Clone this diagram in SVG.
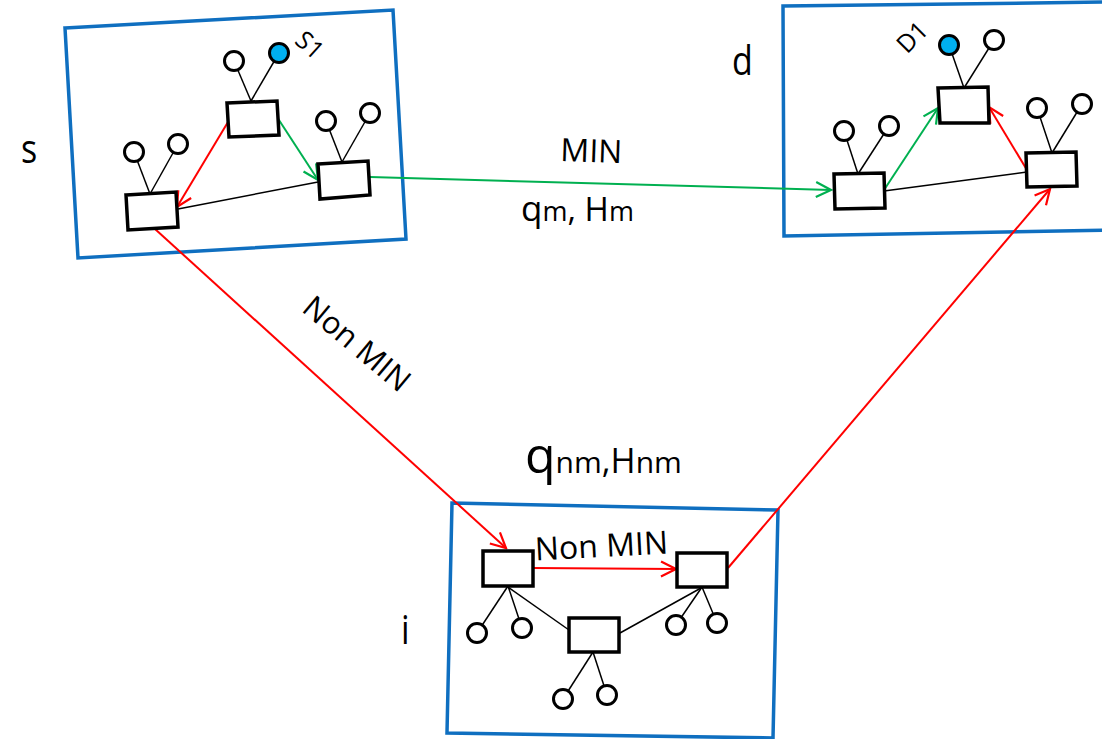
<svg xmlns="http://www.w3.org/2000/svg" width="1102" height="739" viewBox="0 0 1102 739">
<style>
.box{fill:none;stroke:#0F6FC0;stroke-width:3.5}
.nd{fill:#fff;stroke:#000;stroke-width:3.5}
.lf{fill:#fff;stroke:#000;stroke-width:3}
.blue{fill:#00B0F0;stroke:#000;stroke-width:3}
.ln{stroke:#000;stroke-width:1.5;fill:none}
.red{stroke:#FF0000;stroke-width:2;fill:none}
.grn{stroke:#00B050;stroke-width:2;fill:none}
text{font-family:"Open Sans","Liberation Sans",sans-serif;fill:#000}
</style>
<defs>
<marker id="ar" viewBox="-17 -9 19 18" refX="0" refY="0" markerWidth="19" markerHeight="18" markerUnits="userSpaceOnUse" orient="auto"><path d="M-15,-7.5 L0,0 L-15,7.5" fill="none" stroke="#FF0000" stroke-width="2.2"/></marker>
<marker id="ag" viewBox="-17 -9 19 18" refX="0" refY="0" markerWidth="19" markerHeight="18" markerUnits="userSpaceOnUse" orient="auto"><path d="M-15,-7.5 L0,0 L-15,7.5" fill="none" stroke="#00B050" stroke-width="2.2"/></marker>
</defs>
<rect width="1102" height="739" fill="#fff"/>
<g id="box-s"><polygon class="box" points="65,28 393,10 406,239 78,258"/></g>
<g id="box-d"><polygon class="box" points="783,6 1112,2 1113,230 784,236"/></g>
<g id="box-i"><polygon class="box" points="452,503 778,510 773,738 447,733"/></g>
<g id="connectors">
<line class="red" x1="228" y1="122" x2="177" y2="207" marker-end="url(#ar)"/>
<line class="grn" x1="277" y1="117" x2="318" y2="180" marker-end="url(#ag)"/>
<line class="ln" x1="318" y1="182" x2="178" y2="209"/>
<line class="grn" x1="370" y1="177" x2="831" y2="190" marker-end="url(#ag)"/>
<line class="red" x1="155" y1="229" x2="506" y2="548" marker-end="url(#ar)"/>
<line class="red" x1="533" y1="568" x2="676" y2="569" marker-end="url(#ar)"/>
<line class="red" x1="728" y1="568" x2="1050" y2="189" marker-end="url(#ar)"/>
<line class="grn" x1="884" y1="190" x2="938" y2="108" marker-end="url(#ag)"/>
<line class="red" x1="1027" y1="170" x2="989" y2="107" marker-end="url(#ar)"/>
<line class="ln" x1="884" y1="191" x2="1027" y2="172"/>
<line class="ln" x1="508" y1="587" x2="569" y2="630"/>
<line class="ln" x1="620" y1="633" x2="701" y2="588"/>
</g>
<g id="node-s-top">
<line class="ln" x1="251" y1="101" x2="234" y2="61"/><line class="ln" x1="251" y1="101" x2="279" y2="53"/>
<circle class="lf" cx="234" cy="61" r="9.5"/><circle class="blue" cx="279" cy="53" r="9.5"/>
<polygon class="nd" points="227,103 277,101 279,135 229,137"/>
</g>
<g id="node-s-right">
<line class="ln" x1="342" y1="162" x2="326" y2="121"/><line class="ln" x1="342" y1="162" x2="370" y2="113"/>
<circle class="lf" cx="326" cy="121" r="9.5"/><circle class="lf" cx="370" cy="113" r="9.5"/>
<polygon class="nd" points="318,164 368,161 370,195 320,199"/>
</g>
<g id="node-s-left">
<line class="ln" x1="150" y1="194" x2="134" y2="152"/><line class="ln" x1="150" y1="194" x2="178" y2="144"/>
<circle class="lf" cx="134" cy="152" r="9.5"/><circle class="lf" cx="178" cy="144" r="9.5"/>
<polygon class="nd" points="126,195 176,192 178,227 128,230"/>
</g>
<g id="node-d-top">
<line class="ln" x1="964" y1="88" x2="949" y2="45"/><line class="ln" x1="964" y1="88" x2="994" y2="40"/>
<circle class="blue" cx="949" cy="45" r="9.5"/><circle class="lf" cx="994" cy="40" r="9.5"/>
<polygon class="nd" points="938,88 988,87 989,123 940,123"/>
</g>
<g id="node-d-left">
<line class="ln" x1="858" y1="174" x2="844" y2="131"/><line class="ln" x1="858" y1="174" x2="889" y2="126"/>
<circle class="lf" cx="844" cy="131" r="9.5"/><circle class="lf" cx="889" cy="126" r="9.5"/>
<polygon class="nd" points="834,174 884,173 885,208 835,209"/>
</g>
<g id="node-d-right">
<line class="ln" x1="1052" y1="153" x2="1037" y2="108"/><line class="ln" x1="1052" y1="153" x2="1082" y2="104"/>
<circle class="lf" cx="1037" cy="108" r="9.5"/><circle class="lf" cx="1082" cy="104" r="9.5"/>
<polygon class="nd" points="1026,153 1076,152 1077,186 1027,187"/>
</g>
<g id="node-i-left">
<line class="ln" x1="508" y1="586" x2="477" y2="633"/><line class="ln" x1="508" y1="586" x2="522" y2="628"/>
<circle class="lf" cx="477" cy="633" r="9.5"/><circle class="lf" cx="522" cy="628" r="9.5"/>
<polygon class="nd" points="483,551 533,551 533,586 483,586"/>
</g>
<g id="node-i-right">
<line class="ln" x1="702" y1="587" x2="676" y2="625"/><line class="ln" x1="702" y1="587" x2="717" y2="623"/>
<circle class="lf" cx="676" cy="625" r="9.5"/><circle class="lf" cx="717" cy="623" r="9.5"/>
<polygon class="nd" points="677,553 727,553 727,587 677,587"/>
</g>
<g id="node-i-mid">
<line class="ln" x1="593" y1="652" x2="563" y2="699"/><line class="ln" x1="593" y1="652" x2="607" y2="695"/>
<circle class="lf" cx="563" cy="699" r="9.5"/><circle class="lf" cx="607" cy="695" r="9.5"/>
<polygon class="nd" points="569,618 619,618 619,652 569,652"/>
</g>
<g id="labels">
<text transform="translate(21,163) scale(0.85,1)" font-size="40">s</text>
<text transform="translate(732,75) scale(0.85,1)" font-size="40">d</text>
<text transform="translate(401,644) scale(0.85,1)" font-size="40">i</text>
<text transform="translate(310,45) rotate(42)" font-size="25" text-anchor="middle" dy="9">S1</text>
<text transform="translate(912,37) rotate(-45)" font-size="25" text-anchor="middle" dy="9">D1</text>
<text transform="translate(591,162) rotate(2)" font-size="32" text-anchor="middle">MIN</text>
<text x="521" y="221"><tspan font-size="35">q</tspan><tspan font-size="27">m</tspan><tspan font-size="33">, H</tspan><tspan font-size="27">m</tspan></text>
<text x="525" y="473"><tspan font-size="50">q</tspan><tspan font-size="30">nm</tspan><tspan font-size="34">,H</tspan><tspan font-size="30">nm</tspan></text>
<text transform="translate(350,352) rotate(40)" font-size="31" text-anchor="middle">Non MIN</text>
<text transform="translate(602,557) rotate(-3)" font-size="32" text-anchor="middle">Non MIN</text>
</g>
</svg>
